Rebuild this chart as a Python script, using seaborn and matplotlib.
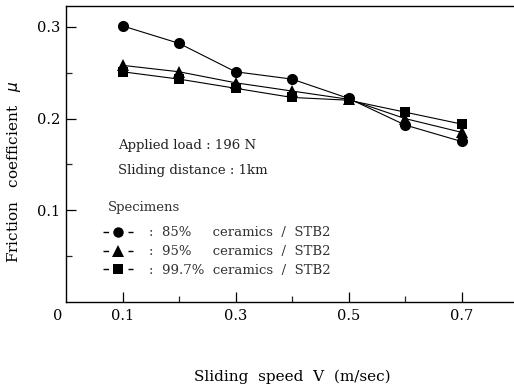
import matplotlib
matplotlib.use("Agg")
import matplotlib.pyplot as plt
import matplotlib.transforms as mtransforms
from matplotlib.lines import Line2D
import seaborn as sns
import pandas as pd

speed = [0.1, 0.2, 0.3, 0.4, 0.5, 0.6, 0.7]
mu_85 = [0.301, 0.282, 0.251, 0.243, 0.222, 0.193, 0.175]
mu_95 = [0.258, 0.251, 0.239, 0.230, 0.221, 0.200, 0.185]
mu_997 = [0.251, 0.243, 0.233, 0.223, 0.220, 0.207, 0.194]
series_names = ["85%", "95%", "99.7%"]
legend_labels = [":  85%     ceramics  /  STB2", ":  95%     ceramics  /  STB2", ":  99.7%  ceramics  /  STB2"]
xtick_vals = [0, 0.1, 0.3, 0.5, 0.7]
xtick_labels = ["0", "0.1", "0.3", "0.5", "0.7"]
ytick_vals = [0.1, 0.2, 0.3]
ytick_labels = ["0.1", "0.2", "0.3"]

df = pd.DataFrame({
    "speed": speed * 3,
    "mu": mu_85 + mu_95 + mu_997,
    "spec": sum([[n] * len(speed) for n in series_names], []),
})

sns.set_theme(style="white")
plt.rcParams["font.family"] = ["DejaVu Serif"]

fig = plt.figure(figsize=(5.14, 3.90), dpi=100)
ax = fig.add_axes([66 / 514, 88 / 390, 452 / 514, 296 / 390])

markers = {"85%": "o", "95%": "^", "99.7%": "s"}
msizes = {"85%": 8, "95%": 8.5, "99.7%": 7}
for name in series_names:
    sub = df[df["spec"] == name]
    sns.lineplot(data=sub, x="speed", y="mu", ax=ax, color="black", lw=0.8,
                 marker=markers[name], markersize=msizes[name], markeredgewidth=0,
                 legend=False)

ax.set_xlim(0, 0.8)
ax.set_ylim(0.0, 0.3227)
ax.set_xticks(xtick_vals)
ax.set_xticklabels(xtick_labels)
ax.set_xticks([0.2, 0.4, 0.6], minor=True)
ax.set_yticks(ytick_vals)
ax.set_yticklabels(ytick_labels)
ax.set_yticks([0.05, 0.15, 0.25], minor=True)
ax.tick_params(axis="both", which="major", direction="in", length=7, width=0.9,
               labelsize=10.5, colors="black", left=True, bottom=True)
ax.tick_params(axis="y", which="major", pad=4)
ax.tick_params(axis="x", which="major", pad=5)
ax.tick_params(axis="both", which="minor", direction="in", length=4, width=0.9,
               left=True, bottom=True)
ax.xaxis.get_major_ticks()[0].tick1line.set_visible(False)
zero_lbl = ax.get_xticklabels()[0]
zero_lbl.set_transform(zero_lbl.get_transform() +
                       mtransforms.ScaledTranslation(-8 / 100, 0, fig.dpi_scale_trans))

for side in ["left", "bottom", "top"]:
    ax.spines[side].set_color("black")
    ax.spines[side].set_linewidth(1.0)
ax.spines["right"].set_visible(False)

ax.set_xlabel("Sliding  speed  V  (m/sec)", fontsize=11, color="black")
ax.xaxis.set_label_coords(0.5, -0.228)
ax.set_ylabel("Friction   coefficient   $\\mu$", fontsize=11, color="black")
ax.yaxis.set_label_coords(-0.095, 0.44)

ax.text(0.115, 0.53, "Applied load : 196 N", transform=ax.transAxes, fontsize=9.5,
        va="center", ha="left", color="#222222")
ax.text(0.115, 0.445, "Sliding distance : 1km", transform=ax.transAxes, fontsize=9.5,
        va="center", ha="left", color="#222222")
ax.text(0.093, 0.318, "Specimens", transform=ax.transAxes, fontsize=9.5,
        va="center", ha="left", color="#333333")

handles = [Line2D([0], [0], color="black", lw=1.0, linestyle=(0, (4, 14)),
                  marker=markers[n], markersize=msizes[n] - 0.5, markeredgewidth=0)
           for n in series_names]
leg = ax.legend(handles, legend_labels, loc="upper left",
                bbox_to_anchor=(0.076, 0.265), frameon=False, fontsize=9.5,
                handlelength=2.3, handletextpad=1.15,
                labelspacing=0.45, borderpad=0.2, borderaxespad=0.0)
for t in leg.get_texts():
    t.set_color("#333333")

fig.savefig("out.png", dpi=100)
